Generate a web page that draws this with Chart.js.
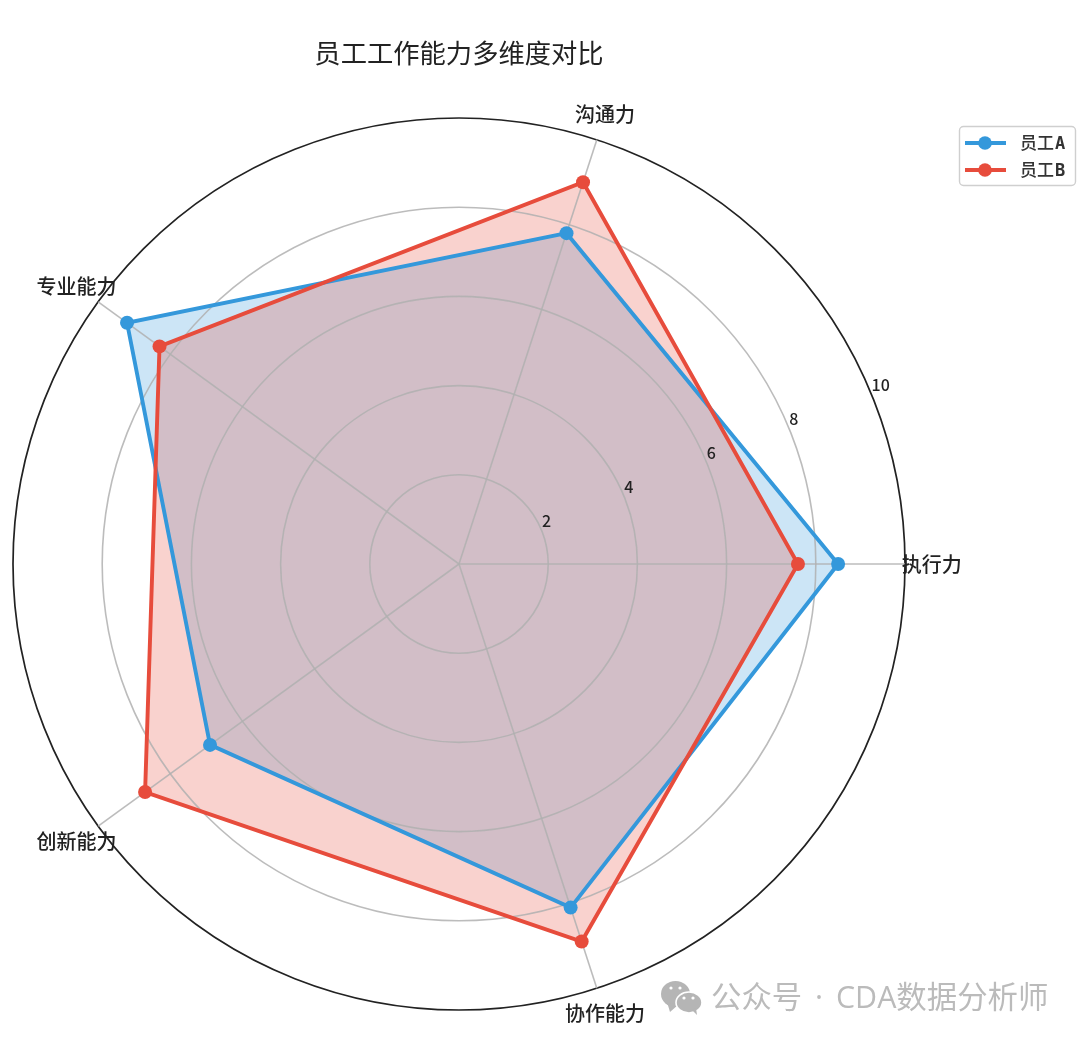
<!DOCTYPE html>
<html><head><meta charset="utf-8">
<script src="https://cdn.jsdelivr.net/npm/chart.js@4"></script>
<style>html,body{margin:0;padding:0;background:#fff}#w{width:1080px;height:1041px;overflow:hidden}canvas{display:block;filter:blur(.45px)}</style>
</head><body><div id="w"><canvas id="c" width="1080" height="1041"></canvas></div>
<script>
// Clockwise order from the right-hand spoke (the chart runs counter-clockwise in the reference)
const categories = ['执行力','协作能力','创新能力','专业能力','沟通力'];
const seriesA = [8.5,8.1,6.9,9.2,7.8];
const seriesB = [7.6,8.9,8.7,8.3,9.0];
const nameA = '员工A', nameB = '员工B';
const colorA = '#3498db', colorB = '#e74c3c';
const radialTicks = [2,4,6,8,10];
const chartTitle = '员工工作能力多维度对比';
const watermark = '公众号 · CDA数据分析师';
const CJK = '"Noto Sans CJK SC","Noto Sans",sans-serif';

const overlay = {
  id:'overlay',
  // the outline datasets are held back so they sit above the fills and the grid
  beforeDatasetDraw(chart,args){ if(args.index>=2) return false; },
  afterDraw(chart){
    const c = chart.ctx, s = chart.scales.r;
    [2,3].forEach(i=>chart.getDatasetMeta(i).controller.draw());
    c.save();
    c.fillStyle='#222'; c.textAlign='center'; c.textBaseline='middle';
    // title
    c.font='26.3px '+CJK; c.fillText(chartTitle,459,53);
    // radial tick labels, left-anchored on the 22.5 degree ray
    c.font='500 16px '+CJK; c.textAlign='left';
    const a = 22.5*Math.PI/180;
    radialTicks.forEach(v=>{
      const d = s.getDistanceFromCenterForValue(v);
      c.fillText(String(v), s.xCenter+d*Math.cos(a)+.5, s.yCenter-d*Math.sin(a)-8.6);
    });
    // category labels
    c.textAlign='center'; c.font='500 20px '+CJK;
    const R = s.getDistanceFromCenterForValue(10);
    categories.forEach((t,i)=>{
      const p = s.getPointPosition(i,R*1.06);
      c.fillText(t,p.x,p.y);
    });
    // legend box
    c.beginPath(); c.roundRect(959.5,126.5,116,59,4);
    c.fillStyle='rgba(255,255,255,.85)'; c.fill();
    c.strokeStyle='#cfcfcf'; c.lineWidth=1.4; c.stroke();
    [[nameA,colorA,143],[nameB,colorB,170]].forEach(([n,col,y])=>{
      c.strokeStyle=col; c.lineWidth=3.8; c.beginPath(); c.moveTo(965,y); c.lineTo(1006,y); c.stroke();
      c.fillStyle=col; c.beginPath(); c.arc(985,y,6.8,0,Math.PI*2); c.fill();
      c.fillStyle='#333'; c.textAlign='left'; c.textBaseline='alphabetic'; c.font='500 17px '+CJK;
      c.fillText(n.slice(0,2),1020,y+6);
      c.font='bold 17px "DejaVu Sans Mono"'; c.fillText(n.slice(2),1055,y+6);
    });
    // watermark
    c.textBaseline='middle'; c.textAlign='left'; c.fillStyle='#bbbbbb';
    c.font='30.4px "Open Sans","Noto Sans CJK SC",sans-serif'; c.wordSpacing='5px';
    c.fillText(watermark,711,999); c.wordSpacing='0px';
    c.fillStyle='#b5b5b5';
    c.beginPath(); c.ellipse(675.5,994,14.5,13,0,0,Math.PI*2); c.fill();
    c.beginPath(); c.moveTo(667,1002); c.lineTo(670,1012); c.lineTo(678,1005); c.fill();
    c.strokeStyle='#fff'; c.lineWidth=1.6;
    c.beginPath(); c.ellipse(689,1002.5,13,10.5,0,0,Math.PI*2); c.fill(); c.stroke();
    c.beginPath(); c.moveTo(692,1010); c.lineTo(697,1015); c.lineTo(696,1008); c.fill();
    c.fillStyle='#fff';
    [[671,988],[680,988],[684,998],[693,998]].forEach(([x,y])=>{c.beginPath();c.arc(x,y,1.6,0,Math.PI*2);c.fill();});
    c.restore();
  }
};

new Chart(document.getElementById('c'),{
  type:'radar',
  data:{labels:categories,datasets:[
    {data:seriesA,order:4,borderWidth:0,backgroundColor:'rgba(52,152,219,.25)',pointRadius:0,fill:true},
    {data:seriesB,order:3,borderWidth:0,backgroundColor:'rgba(231,76,60,.25)',pointRadius:0,fill:true},
    {label:nameA,data:seriesA,order:2,borderColor:colorA,borderWidth:3.9,pointBackgroundColor:colorA,pointBorderColor:colorA,pointRadius:7,pointBorderWidth:0,fill:false,tension:0},
    {label:nameB,data:seriesB,order:1,borderColor:colorB,borderWidth:3.9,pointBackgroundColor:colorB,pointBorderColor:colorB,pointRadius:7,pointBorderWidth:0,fill:false,tension:0}
  ]},
  plugins:[overlay],
  options:{
    responsive:false,animation:false,devicePixelRatio:1,
    layout:{padding:{left:13,top:118,right:175,bottom:31}},
    plugins:{legend:{display:false},title:{display:false},tooltip:{enabled:false}},
    scales:{r:{
      min:0,max:10,startAngle:90,
      ticks:{stepSize:2,display:false},
      pointLabels:{display:false},
      angleLines:{color:'rgba(176,176,176,.85)',lineWidth:1.6},
      grid:{z:1,circular:true,lineWidth:ctx=>ctx.tick.value===10?1.7:1.6,color:ctx=>ctx.tick.value===10?'#222':'rgba(176,176,176,.85)'}
    }}
  }
});
</script></body></html>
